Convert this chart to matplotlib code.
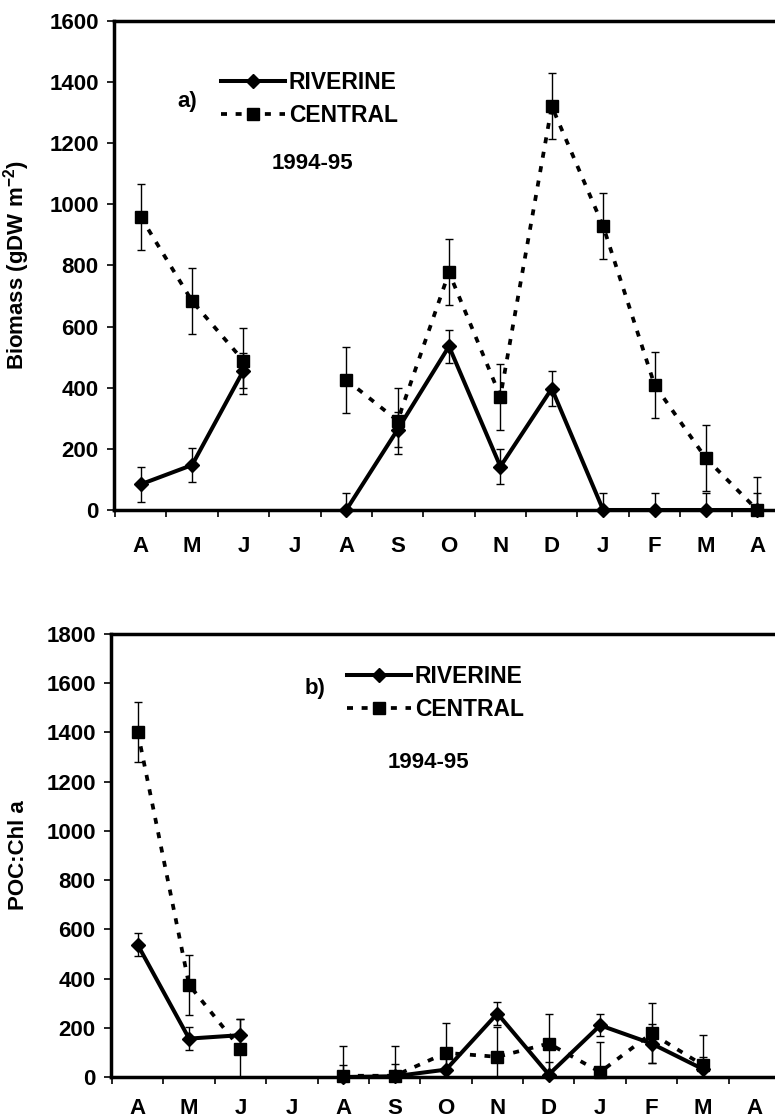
import numpy as np
import matplotlib
matplotlib.use("Agg")
import matplotlib.pyplot as plt

plt.rcParams['font.family'] = ['Liberation Sans', 'DejaVu Sans']
plt.rcParams['font.weight'] = 'bold'
plt.rcParams['mathtext.fontset'] = 'custom'
plt.rcParams['mathtext.rm'] = 'Liberation Sans:bold'
plt.rcParams['mathtext.bf'] = 'Liberation Sans:bold'
plt.rcParams['mathtext.default'] = 'bf'

nan = np.nan
months = ['A', 'M', 'J', 'J', 'A', 'S', 'O', 'N', 'D', 'J', 'F', 'M', 'A']

# a) biomass
riv_bio = [84, 147, 456, nan, 0, 263, 535, 142, 397, 0, 0, 0, 0]
riv_bio_err = [57, 57, 57, nan, 57, 57, 55, 56, 56, 55, 55, 55, 55]
cen_bio = [958, 683, 488, nan, 426, 292, 777, 371, 1320, 928, 409, 169, 0]
cen_bio_err = [108, 108, 108, nan, 108, 108, 108, 108, 108, 108, 108, 108, 108]

# b) POC:Chl a
riv_poc = [537, 156, 170, nan, 0, 3, 30, 258, 10, 210, 136, 32, nan]
riv_poc_err = [47, 47, 65, nan, 50, 50, 50, 48, 50, 44, 80, 50, nan]
cen_poc = [1402, 374, 115, nan, 5, 5, 98, 82, 136, 20, 177, 48, nan]
cen_poc_err = [122, 122, 122, nan, 122, 122, 122, 122, 122, 122, 122, 122, nan]

x = np.arange(len(months))

fig = plt.figure(figsize=(7.75, 11.2), dpi=100)
ax1 = fig.add_axes([114/775, 1-510/1120, 669/775, 489.3/1120])
ax2 = fig.add_axes([111/775, 1-1077/1120, 669/775, 443/1120])


def panel(ax, riv, riv_err, cen, cen_err, ymax, ylabel, tag, leg_xy, tag_xy, yr_xy, xpad):
    ax.errorbar(x, cen, yerr=cen_err, fmt='none', ecolor='black',
                elinewidth=1, capsize=3, capthick=1, zorder=2)
    ax.errorbar(x, riv, yerr=riv_err, fmt='none', ecolor='black',
                elinewidth=1, capsize=3, capthick=1, zorder=2)
    ax.plot(x, cen, color='black', lw=2.7, dashes=(1.6, 2.3), marker='s',
            ms=9, label='CENTRAL', zorder=3, clip_on=False)
    ax.plot(x, riv, color='black', lw=2.9, marker='D', ms=7,
            label='RIVERINE', zorder=4, clip_on=False)
    ax.set_xlim(-0.52, 12.5)
    ax.set_ylim(0, ymax)
    ax.set_yticks(np.arange(0, ymax + 1, 200))
    ax.set_xticks(x)
    ax.set_xticklabels(months)
    ax.set_xticks(np.arange(-0.5, 12.6, 1), minor=True)
    ax.tick_params(axis='x', which='major', length=0, pad=xpad, labelsize=16)
    ax.tick_params(axis='x', which='minor', direction='out', length=5, width=1.2)
    ax.tick_params(axis='y', direction='out', length=5, width=1.2, pad=6,
                   labelsize=16)
    for s in ['left', 'bottom', 'top']:
        ax.spines[s].set_linewidth(2.5)
    ax.spines['right'].set_visible(False)
    ax.set_ylabel(ylabel, fontsize=16, fontweight='bold')
    ax.yaxis.set_label_coords(-0.123, 0.5)
    h, l = ax.get_legend_handles_labels()
    ax.legend(h[::-1], l[::-1], loc='upper left', bbox_to_anchor=leg_xy,
              frameon=False, fontsize=16.5, handlelength=2.8, handletextpad=0.15,
              labelspacing=0.45, borderpad=0, borderaxespad=0)
    ax.text(tag_xy[0], tag_xy[1], tag, transform=ax.transAxes, fontsize=16,
            fontweight='bold', ha='center', va='center')
    ax.text(yr_xy[0], yr_xy[1], '1994-95', transform=ax.transAxes, fontsize=16,
            fontweight='bold', ha='left', va='center')


panel(ax1, riv_bio, riv_bio_err, cen_bio, cen_bio_err, 1600,
      r'Biomass (gDW m$^{-2}$)', 'a)', (0.160, 0.897), (0.11, 0.834), (0.236, 0.709), 19)
panel(ax2, riv_poc, riv_poc_err, cen_poc, cen_poc_err, 1800,
      'POC:Chl a', 'b)', (0.353, 0.93), (0.305, 0.878), (0.414, 0.711), 15)

fig.savefig('out.png', dpi=100)
